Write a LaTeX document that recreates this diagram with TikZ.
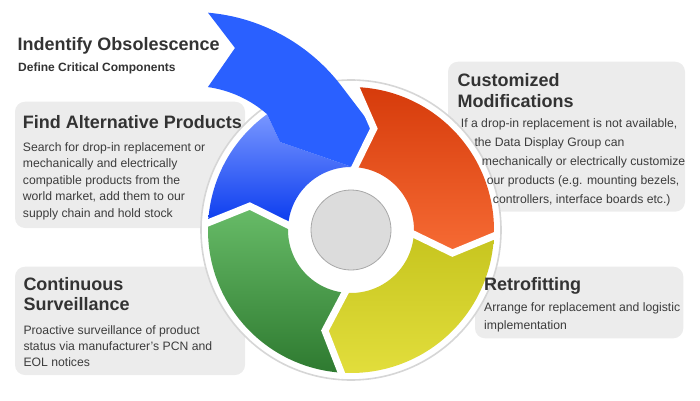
\documentclass[tikz,border=0pt]{standalone}
\usepackage{fontspec}
\setmainfont{Liberation Sans}
\usetikzlibrary{calc}

\definecolor{boxgray}{HTML}{ECECEC}
\definecolor{ringline}{HTML}{D6D6D6}
\definecolor{hubfill}{HTML}{DCDCDC}
\definecolor{hubline}{HTML}{A8A8A8}
\definecolor{txtdark}{HTML}{333333}
\definecolor{txtbody}{HTML}{3C3C3C}
\definecolor{bluemain}{HTML}{2A60FF}
\definecolor{bluelight}{HTML}{7896FF}
\definecolor{bluedeep}{HTML}{0638EE}
\definecolor{redtop}{HTML}{D63B0B}
\definecolor{redbot}{HTML}{F66B34}
\definecolor{yeltop}{HTML}{C6C41E}
\definecolor{yelbot}{HTML}{E2DE3C}
\definecolor{grntop}{HTML}{68BC68}
\definecolor{grnbot}{HTML}{2E7A30}

\begin{document}
\begin{tikzpicture}[x=1pt,y=1pt,
  infobox/.style={fill=boxgray, rounded corners=10pt},
  heading/.style={anchor=base west, inner sep=0pt, text=txtdark,
    font=\fontsize{18}{20}\selectfont\bfseries},
  subheading/.style={anchor=base west, inner sep=0pt, text=txtdark,
    font=\fontsize{12}{14}\selectfont\bfseries},
  bodytext/.style={anchor=base west, inner sep=0pt, text=txtbody,
    font=\fontsize{12.2}{15}\selectfont},
  gapline/.style={draw=white, line width=7pt, line join=miter, miter limit=20}]
\useasboundingbox (0,0) rectangle (700,400);

% info panels
\fill[infobox] (15,172) rectangle (245,298.3);
\fill[infobox] (15,25) rectangle (245,133.3);
\fill[infobox] (448,188.3) rectangle (685,338.3);
\fill[infobox] (475,61.7) rectangle (683.3,133.3);

% the cycle wheel
\begin{scope}[shift={(351,170)}]
  % white backdrop disc
  \filldraw[fill=white, draw=ringline, line width=1.6pt] (0,0) circle[radius=150];

  % red segment
  \shade[top color=redtop, bottom color=redbot]
    (89:143) arc[start angle=89, end angle=-1.5, radius=143]
    -- (-12.8:104) -- (-1.5:63)
    arc[start angle=-1.5, end angle=89, radius=63]
    -- (77.3:104) -- cycle;

  % yellow segment
  \shade[top color=yeltop, bottom color=yelbot]
    (-1.5:143) arc[start angle=-1.5, end angle=-93, radius=143]
    -- (-104.5:104) -- (-93:63)
    arc[start angle=-93, end angle=-1.5, radius=63]
    -- (-12.8:104) -- cycle;

  % green segment
  \shade[top color=grntop, bottom color=grnbot]
    (-93:143) arc[start angle=-93, end angle=-182, radius=143]
    -- (-193.3:104) -- (-182:63)
    arc[start angle=-182, end angle=-93, radius=63]
    -- (-104.5:104) -- cycle;

  % blue segment, ring part with glossy gradient
  \shade[top color=bluelight, bottom color=bluedeep]
    (-83.9,115.8) arc[start angle=125.9, end angle=178, radius=143]
    -- (166.7:104) -- (178:63)
    arc[start angle=178, end angle=89, radius=63]
    -- (-71,88) -- cycle;

  % blue sweep with the notched tail
  \fill[bluemain]
    (-143,217.3) arc[start angle=85.1, end angle=36.6, radius=188]
    -- (77.3:104) -- (89:63) -- (-71,88) -- (-83.9,115.8)
    arc[start angle=48.8, end angle=82, radius=114]
    -- (-116,182) -- cycle;

  % white gaps between the arrows
  \draw[gapline] (89:148) -- (77.3:104) -- (89:57);
  \draw[gapline] (-1.5:148) -- (-12.8:104) -- (-1.5:57);
  \draw[gapline] (-93:148) -- (-104.5:104) -- (-93:57);
  \draw[gapline] (178:148) -- (166.7:104) -- (178:57);

  % hub
  \filldraw[fill=hubfill, draw=hubline, line width=0.8pt] (0,0) circle[radius=40];
\end{scope}

% texts
\node[heading] (obs-title) at (17.3,349) {Indentify Obsolescence};
\node[subheading] (obs-sub) at (18,328.3) {Define Critical Components};

\node[heading] (alt-title) at (22.7,271.7) {Find Alternative Products};
\node[bodytext] (alt-1) at (22.7,248.7) {Search for drop-in replacement or};
\node[bodytext] (alt-2) at (22.7,232.2) {mechanically and electrically};
\node[bodytext] (alt-3) at (22.7,215.7) {compatible products from the};
\node[bodytext] (alt-4) at (22.7,199.2) {world market, add them to our};
\node[bodytext] (alt-5) at (22.7,182.7) {supply chain and hold stock};

\node[heading] (sur-title1) at (23.3,109.3) {Continuous};
\node[heading] (sur-title2) at (23.3,90) {Surveillance};
\node[bodytext] (sur-1) at (23.3,66) {Proactive surveillance of product};
\node[bodytext] (sur-2) at (23.3,50) {status via manufacturer’s PCN and};
\node[bodytext] (sur-3) at (23.3,34) {EOL notices};

\node[heading] (mod-title1) at (457.3,313.3) {Customized};
\node[heading] (mod-title2) at (457.3,292.7) {Modifications};
\node[bodytext] (mod-1) at (460.7,272.5) {If a drop-in replacement is not available,};
\node[bodytext] (mod-2) at (474.3,253.5) {the Data Display Group can};
\node[bodytext] (mod-3) at (481.7,234.5) {mechanically or electrically customize};
\node[bodytext] (mod-4) at (486.7,215.5) {our products (e.g. mounting bezels,};
\node[bodytext] (mod-5) at (492.7,196.5) {controllers, interface boards etc.)};

\node[heading] (ret-title) at (484,110) {Retrofitting};
\node[bodytext] (ret-1) at (484,88.3) {Arrange for replacement and logistic};
\node[bodytext] (ret-2) at (484,71) {implementation};
\end{tikzpicture}
\end{document}
